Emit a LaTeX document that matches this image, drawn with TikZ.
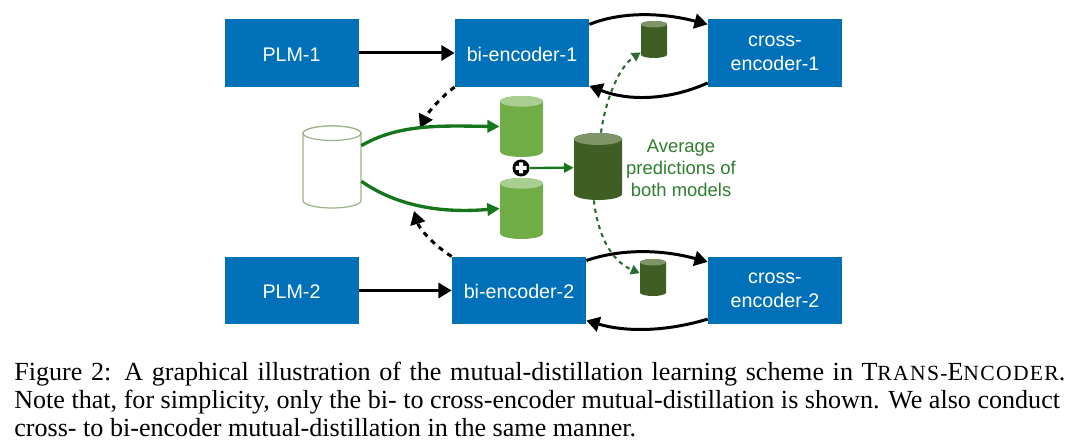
\documentclass[tikz,border=0pt]{standalone}
\usepackage{fontspec}
\setmainfont{Liberation Serif}
\setsansfont{Liberation Sans}
\usetikzlibrary{arrows.meta}
\definecolor{boxblue}{HTML}{0070B8}
\definecolor{arrowgreen}{HTML}{16761C}
\definecolor{textgreen}{HTML}{2F7D2F}
\definecolor{dotgreen}{HTML}{2B6B34}
\definecolor{edgegreen}{HTML}{9DB48A}
\definecolor{midgreen}{HTML}{70AD47}
\definecolor{midlid}{HTML}{A9CE91}
\definecolor{darkgreen}{HTML}{3E5E24}
\definecolor{darklid}{HTML}{7F9469}
\tikzset{
  encbox/.style={fill=boxblue, text=white, minimum width=2.68cm, minimum height=1.35cm, inner sep=0pt,
    align=center, font=\sffamily\fontsize{11.2}{13.6}\selectfont},
  onebox/.style={encbox, text height=0.34cm},
  twobox/.style={encbox, execute at begin node=\rule{0pt}{10pt}},
  solidarrow/.style={->, line width=1.7pt, black},
  dasharrow/.style={->, line width=1.7pt, black, dash pattern=on 3pt off 3pt},
  greenarrow/.style={-{Triangle[length=7pt,width=7pt]}, line width=1.9pt, arrowgreen},
  dotarrow/.style={-{Triangle[length=5pt,width=5.5pt]}, line width=1.2pt, dotgreen, dash pattern=on 2.4pt off 2.4pt}
}
% small capitals of the caption
\newcommand{\capsmall}[1]{{\addfontfeatures{LetterSpace=6}\fontsize{12.3}{15.9}\selectfont #1}}
% name, x, y, width, height, draw options, lid colour
\newcommand{\drumnode}[7]{
  \node[minimum width=#4cm, minimum height=#5cm, inner sep=0pt] (#1) at (#2,#3) {};
  \pgfmathsetmacro{\drumrx}{#4/2}
  \pgfmathsetmacro{\drumry}{0.125*#4}
  \pgfmathsetmacro{\drumhy}{#5/2-\drumry}
  \begin{scope}[shift={(#1.center)}]
    \path[#6] (-\drumrx,\drumhy) -- (-\drumrx,-\drumhy)
      arc[start angle=180, end angle=360, x radius=\drumrx, y radius=\drumry]
      -- (\drumrx,\drumhy) arc[start angle=0, end angle=180, x radius=\drumrx, y radius=\drumry] -- cycle;
    \path[#6, fill=#7] (0,\drumhy) ellipse[x radius=\drumrx, y radius=\drumry];
  \end{scope}
}
\begin{document}
\begin{tikzpicture}[>={Triangle[length=7.5pt,width=8.5pt]}]
  \useasboundingbox (0,0) rectangle (21.6,8.96);

  % Encoders
  \node[onebox] (plm1) at (5.83,7.9) {PLM-1};
  \node[onebox] (bi1) at (10.44,7.9) {bi-encoder-1};
  \node[twobox] (cross1) at (15.5,7.9) {cross-\\encoder-1};
  \node[onebox] (plm2) at (5.83,3.15) {PLM-2};
  \node[onebox] (bi2) at (10.38,3.15) {bi-encoder-2};
  \node[twobox] (cross2) at (15.5,3.15) {cross-\\encoder-2};

  % Cylinders
  \drumnode{data}{6.64}{5.62}{1.16}{1.64}{draw=edgegreen, line width=0.7pt, fill=white}{white}
  \drumnode{pred1}{10.43}{6.43}{0.86}{1.22}{fill=midgreen}{midlid}
  \drumnode{pred2}{10.43}{4.79}{0.86}{1.22}{fill=midgreen}{midlid}
  \drumnode{avg}{11.96}{5.63}{0.96}{1.34}{fill=darkgreen}{darklid}
  \drumnode{small1}{13.08}{8.17}{0.52}{0.74}{fill=darkgreen}{darklid}
  \drumnode{small2}{13.06}{3.41}{0.52}{0.74}{fill=darkgreen}{darklid}

  % Plus sign
  \node[circle, fill=black, minimum size=0.34cm, inner sep=0pt] (plus) at (10.42,5.6) {};
  \fill[white] (plus.center) +(-0.11,-0.04) rectangle +(0.11,0.04) +(-0.04,-0.11) rectangle +(0.04,0.11);

  % Free ends of the dashed arrows
  \coordinate (tip1) at (8.4,6.4);
  \coordinate (tip2) at (8.28,4.74);

  % Black arrows
  \draw[solidarrow] (plm1) -- (bi1);
  \draw[solidarrow] (plm2) -- (bi2);
  \draw[solidarrow] (bi1.23) .. controls (12.4,8.72) and (13.2,8.72) .. (cross1.157);
  \draw[solidarrow] (cross1.204) .. controls (13.3,6.92) and (12.5,6.96) .. (bi1.-26);
  \draw[solidarrow] (bi2.24) .. controls (12.4,3.98) and (13.2,3.98) .. (cross2.157);
  \draw[solidarrow] (cross2.203) .. controls (13.3,2.32) and (12.5,2.32) .. (bi2.-24);

  % Dashed arrows
  \draw[dasharrow] (bi1.south west) .. controls (8.85,7.05) and (8.55,6.7) .. (tip1);
  \draw[dasharrow] (bi2.north west) .. controls (8.75,4.0) and (8.4,4.35) .. (tip2);

  % Green arrows
  \draw[greenarrow] (data.36) .. controls (8.0,6.5) and (8.9,6.44) .. (pred1.180);
  \draw[greenarrow] (data.-26) .. controls (8.0,4.8) and (8.9,4.7) .. (pred2.180);
  \draw[-{Triangle[length=5.5pt,width=5.5pt]}, line width=1.3pt, arrowgreen] (plus) -- (avg.183);
  \draw[dotarrow] (avg.85) .. controls (12.1,6.9) and (12.35,7.6) .. (small1.224);
  \draw[dotarrow] (avg.-97) .. controls (11.95,4.3) and (12.2,3.75) .. (small2.162);

  % Label
  \node[text=textgreen, align=center, font=\sffamily\fontsize{10.5}{12.5}\selectfont] (avglabel) at (13.62,5.6) {Average\\predictions of\\both models};

  % Caption
  \node[anchor=north west, inner sep=0pt, align=left, font=\fontsize{14.85}{15.9}\selectfont] (caption) at (0.28,1.72)
    {\makebox[21.02cm][s]{Figure 2: A graphical illustration of the mutual-distillation learning scheme in T\capsmall{RANS-}E\capsmall{NCODER}.}\\
     Note that, for simplicity, only the bi- to cross-encoder mutual-distillation is shown. We also conduct\\
     cross- to bi-encoder mutual-distillation in the same manner.};
\end{tikzpicture}
\end{document}
